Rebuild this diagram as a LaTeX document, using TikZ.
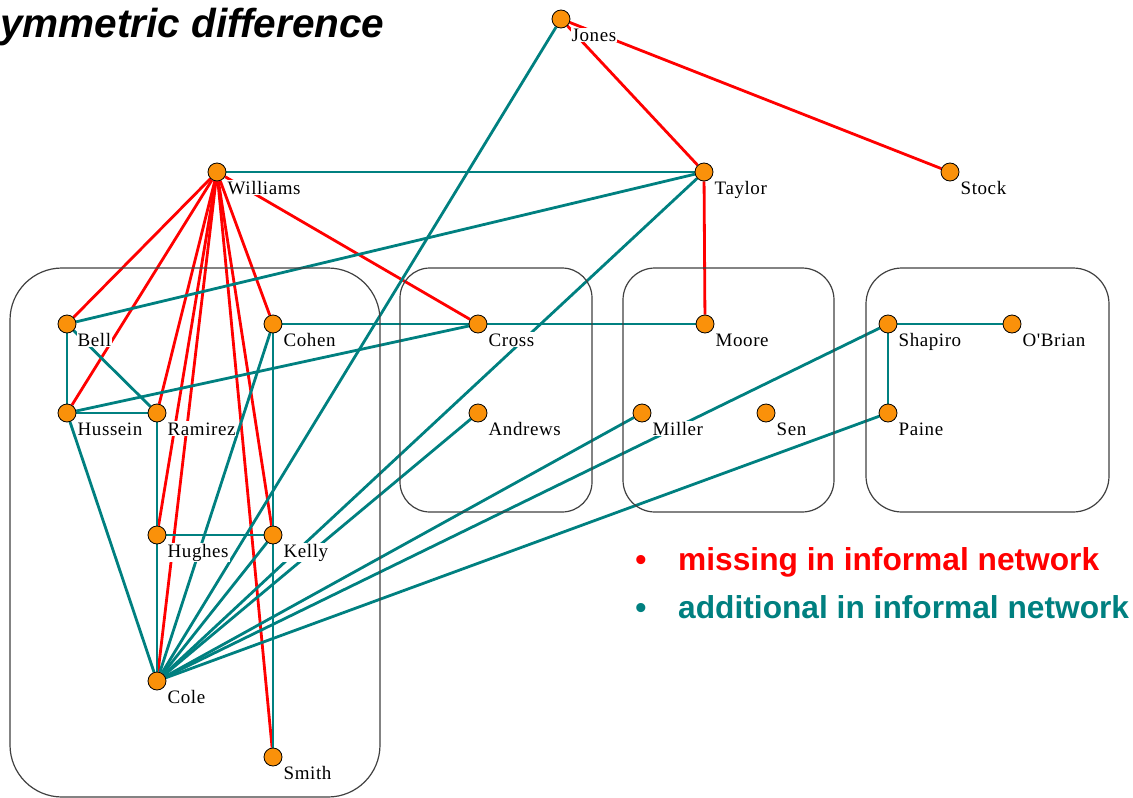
\documentclass[tikz,border=0pt]{standalone}
\usepackage{fontspec}
\setmainfont{Liberation Serif}
\newfontfamily\headfont{Liberation Sans}
\newfontfamily\namefont[LetterSpace=3]{Liberation Serif}
\usetikzlibrary{calc}
\pgfdeclarelayer{edges}
\pgfsetlayers{edges,main}
\definecolor{linkmiss}{RGB}{255,0,0}
\definecolor{linkadd}{RGB}{0,128,128}
\definecolor{actorfill}{RGB}{250,145,10}
\tikzset{
  vtx/.style={circle, draw=black, line width=0.8pt, fill=actorfill, minimum size=18pt, inner sep=0pt},
  lbl/.style={anchor=base west, fill=white, inner sep=1pt, font=\namefont\fontsize{19}{22}\selectfont},
  misslink/.style={draw=linkmiss, line width=2.8pt},
  addlink/.style={draw=linkadd, line width=2.8pt},
  grp/.style={draw=black!75, line width=1.2pt},
  legendtxt/.style={inner sep=0pt, font=\headfont\bfseries\fontsize{31.7}{36}\selectfont}
}
\begin{document}
\begin{tikzpicture}[x=1pt,y=-1pt]
\useasboundingbox (0,0) rectangle (1133,798);
\clip (0,0) rectangle (1133,798);

% title
\node[anchor=base west, inner sep=0pt, font=\headfont\bfseries\itshape\fontsize{40.5}{46}\selectfont] (title) at (0,37) {ymmetric difference};

% actors
\foreach \n/\x/\y in {Jones/561/19, Williams/217/172, Taylor/704/172, Stock/950/172,
  Bell/67/324, Cohen/273/324, Cross/478/324, Moore/705/324, Shapiro/888/324, OBrian/1012/324,
  Hussein/67/413, Ramirez/157/413, Andrews/478/413, Miller/642/413, Sen/766/413, Paine/888/413,
  Hughes/157/535, Kelly/273/535, Cole/157/681, Smith/273/757}
  \node[vtx] (\n) at (\x,\y) {};

% ties missing in the informal network
\begin{pgfonlayer}{edges}
\foreach \a/\b in {Jones/Taylor, Jones/Stock, Taylor/Moore,
  Williams/Bell, Williams/Hussein, Williams/Ramirez, Williams/Hughes, Williams/Cole,
  Williams/Cohen, Williams/Kelly, Williams/Smith, Williams/Cross}
  \draw[misslink] (\a) -- (\b);
% ties added in the informal network
\foreach \a/\b in {Williams/Taylor, Taylor/Bell, Taylor/Cole, Jones/Cole,
  Cohen/Cross, Cross/Moore, Cross/Hussein,
  Bell/Hussein, Bell/Ramirez, Hussein/Ramirez, Hussein/Cole,
  Ramirez/Hughes, Hughes/Kelly, Hughes/Cole,
  Cohen/Kelly, Kelly/Smith, Cohen/Cole, Kelly/Cole,
  Andrews/Cole, Miller/Cole, Shapiro/Cole, Paine/Cole,
  Shapiro/OBrian, Shapiro/Paine}
  \draw[addlink] (\a) -- (\b);
\end{pgfonlayer}

% formal groups
\draw[grp, rounded corners=52pt] (10,268) rectangle (380,797);
\draw[grp, rounded corners=30pt] (400,268) rectangle (592,512);
\draw[grp, rounded corners=32pt] (623,268) rectangle (834,512);
\draw[grp, rounded corners=36pt] (866,268) rectangle (1109,512);

% actor names
\foreach \n/\t in {Jones/Jones, Williams/Williams, Taylor/Taylor, Stock/Stock,
  Bell/Bell, Cohen/Cohen, Cross/Cross, Moore/Moore, Shapiro/Shapiro, OBrian/O'Brian,
  Hussein/Hussein, Ramirez/Ramirez, Andrews/Andrews, Miller/Miller, Sen/Sen, Paine/Paine,
  Hughes/Hughes, Kelly/Kelly, Cole/Cole, Smith/Smith}
  \node[lbl] (\n-name) at ($(\n.center)+(9.5,22)$) {\t};

% legend
\node[legendtxt, anchor=base, text=linkmiss] (missdot) at (641,570) {\textbullet};
\node[legendtxt, anchor=base west, text=linkmiss] (misstxt) at (678,570) {missing in informal network};
\node[legendtxt, anchor=base, text=linkadd] (adddot) at (641,618) {\textbullet};
\node[legendtxt, anchor=base west, text=linkadd] (addtxt) at (678,618) {additional in informal network};
\end{tikzpicture}
\end{document}
